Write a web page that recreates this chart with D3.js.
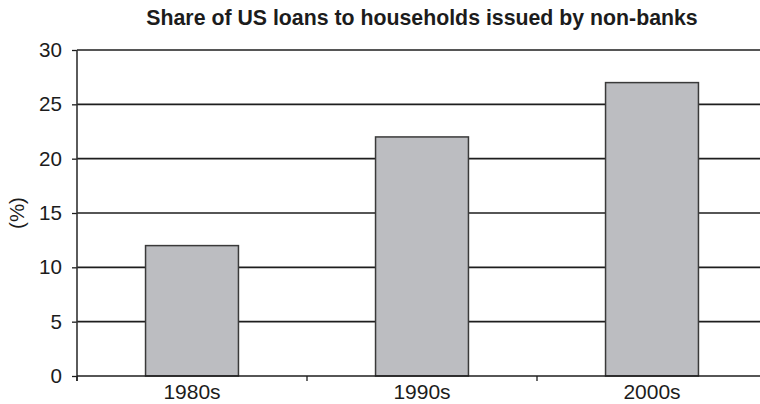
<!DOCTYPE html>
<html>
<head>
<meta charset="utf-8">
<script src="https://cdn.jsdelivr.net/npm/d3@7"></script>
<style>
  html, body { margin: 0; padding: 0; background: #fff; }
  svg { display: block; font-family: Arial, "Liberation Sans", sans-serif; }
</style>
</head>
<body>
<svg id="chart" width="760" height="404"></svg>
<script>
const decades = ["1980s", "1990s", "2000s"];
const shareNonBank = [12, 22, 27];
const yTicks = [0, 5, 10, 15, 20, 25, 30];
const titleText = "Share of US loans to households issued by non-banks";
const yLabel = "(%)";

const svg = d3.select("#chart");
const plotLeft = 77, plotRight = 767, plotTop = 50, plotBottom = 376;
const ink = "#1c1c1c";

const x = d3.scaleBand()
  .domain(decades)
  .range([plotLeft, plotRight])
  .paddingInner(0.596)
  .paddingOuter(0.298);

const y = d3.scaleLinear().domain([0, 30]).range([plotBottom, plotTop]);

// horizontal gridlines
svg.append("g")
  .selectAll("line")
  .data(yTicks.filter(d => d > 0))
  .join("line")
  .attr("x1", plotLeft).attr("x2", plotRight)
  .attr("y1", d => y(d)).attr("y2", d => y(d))
  .attr("stroke", "#1e1e1e")
  .attr("stroke-width", 1.6);

// bars
svg.append("g")
  .selectAll("rect")
  .data(decades.map((d, i) => ({ d, v: shareNonBank[i] })))
  .join("rect")
  .attr("x", r => x(r.d))
  .attr("width", x.bandwidth())
  .attr("y", r => y(r.v))
  .attr("height", r => y(0) - y(r.v))
  .attr("fill", "#bcbdc1")
  .attr("stroke", "#3a3a3a")
  .attr("stroke-width", 1.5);

// y axis
const yAxis = svg.append("g")
  .attr("transform", `translate(${plotLeft},0)`)
  .call(d3.axisLeft(y).tickValues(yTicks).tickSize(5).tickPadding(10));
yAxis.select(".domain").remove();
yAxis.selectAll(".tick line").attr("stroke", ink).attr("stroke-width", 1.3);
yAxis.selectAll(".tick text")
  .attr("fill", ink)
  .style("font-size", "20.6px");
yAxis.append("line")
  .attr("x1", 0).attr("x2", 0)
  .attr("y1", plotTop).attr("y2", plotBottom + 5)
  .attr("stroke", "#333").attr("stroke-width", 1.6);

// x axis: category labels centred, ticks at band boundaries
const xAxis = svg.append("g")
  .attr("transform", `translate(0,${plotBottom})`)
  .call(d3.axisBottom(x).tickSize(0).tickPadding(8.5));
xAxis.select(".domain").remove();
xAxis.selectAll(".tick text")
  .attr("fill", ink)
  .style("font-size", "21px");
xAxis.append("line")
  .attr("x1", plotLeft).attr("x2", plotRight)
  .attr("stroke", "#1e1e1e").attr("stroke-width", 1.6);
xAxis.selectAll(".bound")
  .data(decades.map(d => x(d) - x.step() * x.paddingInner() / 2).concat([plotRight]))
  .join("line")
  .attr("class", "bound")
  .attr("x1", d => d).attr("x2", d => d)
  .attr("y1", 0).attr("y2", 5)
  .attr("stroke", ink).attr("stroke-width", 1.3);

// title
svg.append("text")
  .attr("x", (plotLeft + plotRight) / 2)
  .attr("y", 25)
  .attr("text-anchor", "middle")
  .attr("fill", ink)
  .style("font-size", "21.3px")
  .style("font-weight", "bold")
  .text(titleText);

// y-axis label
svg.append("text")
  .attr("transform", `translate(24,${(plotTop + plotBottom) / 2}) rotate(-90)`)
  .attr("text-anchor", "middle")
  .attr("fill", ink)
  .style("font-size", "20.5px")
  .text(yLabel);
</script>
</body>
</html>
